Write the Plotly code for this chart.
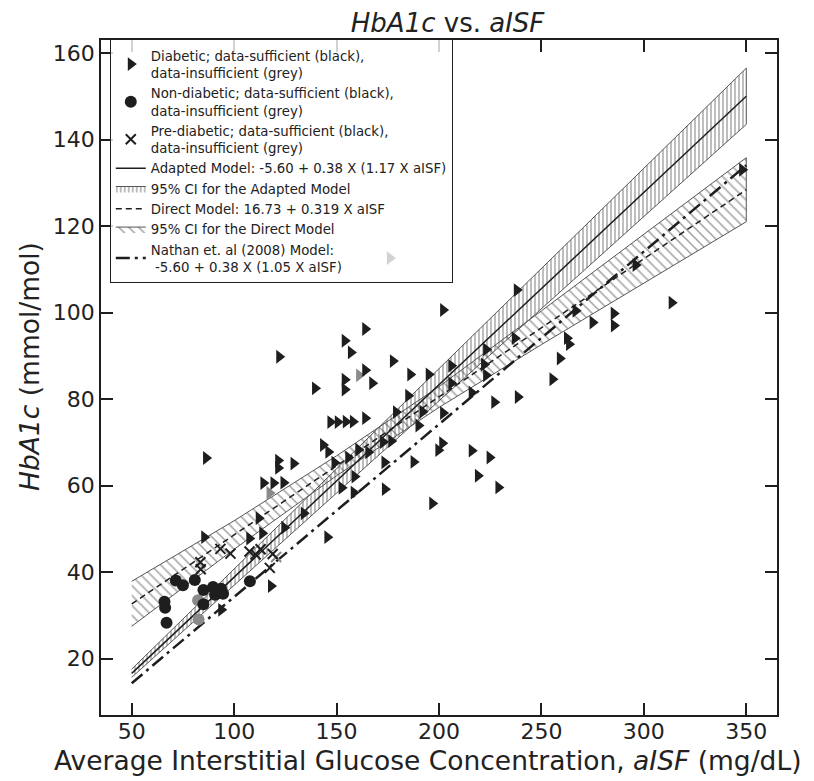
import plotly.graph_objects as go

# ---------------- data ----------------
diab_x = [164, 154, 157, 122, 177.5, 164, 154, 167.4, 154, 139.5, 147, 150.6, 154.5, 158, 164, 179,
          86.3, 143.4, 146, 121.5, 129, 121.5, 114.3, 119.2, 124.1, 149, 155.7, 160.6, 165.5, 172.7,
          176.7, 173.4, 158.8, 152.5, 158.4, 173.6, 112, 134, 124.5, 113.7, 107.4, 85.4, 145.5,
          238, 202, 313.6, 266.7, 285.3, 275, 285.4, 237, 262.5, 263.5, 223, 206, 222, 259, 186,
          195, 206, 223, 255.4, 185, 216, 238.5, 227, 192, 202, 190, 201.6, 199.7, 187.6, 216,
          224.7, 219, 229, 196.7, 296, 348, 118, 93.7, 176]
diab_y = [96.2, 93.5, 90.8, 89.8, 88.8, 86.7, 84.5, 83.7, 82.2, 82.5, 74.7, 74.7, 74.8, 74.8, 75.6, 77,
          66.4, 69.4, 67.8, 65.8, 65.1, 64.1, 60.6, 60.6, 60.7, 65.3, 66.5, 68.3, 67.7, 70.1,
          70.3, 65.4, 62.1, 59.5, 58.4, 59.2, 52.5, 53.6, 50.3, 49, 47.8, 48.1, 48.1,
          105.2, 100.6, 102.3, 100.4, 99.8, 97.7, 97, 94.1, 94.1, 92.7, 91.5, 87.7, 88, 89.4, 85.7,
          85.7, 83.7, 85.5, 84.6, 80.8, 81.5, 80.5, 79.3, 77.1, 76.8, 73.9, 69.8, 68.2, 65.5, 68.1,
          66.5, 62.3, 59.6, 55.9, 111, 133, 36.8, 31.3, 112.6]
diab_grey_x = [117.3, 161]
diab_grey_y = [58.3, 85.5]

nond_x = [66.3, 67, 66, 71.5, 75, 80.8, 85, 89.7, 92.1, 93.6, 90.7, 94.6, 85, 107.7]
nond_y = [31.8, 28.3, 33.2, 38.1, 37, 38.2, 35.9, 36.6, 35.5, 36.2, 34.8, 35, 32.6, 37.9]
nond_grey_x = [82.6, 82.4]
nond_grey_y = [29.1, 33.5]

pre_x = [93.3, 98.2, 107.5, 110.5, 112.9, 83.7, 83.5, 117.4, 118.8]
pre_y = [45.4, 44.3, 44.8, 44.1, 45.3, 40.7, 42.3, 41, 44.2]
pre_grey_x = [120.5]
pre_grey_y = [43.5]

# model coefficients (from legend)
model_x = [50, 350]
adapt_a, adapt_b, adapt_k = -5.60, 0.38, 1.17
direct_a, direct_b = 16.73, 0.319
nathan_a, nathan_b, nathan_k = -5.60, 0.38, 1.05

# confidence bands
adapt_ci_x = [50, 350]
adapt_ci_lo = [15.7, 143.5]
adapt_ci_hi = [17.6, 156.5]
direct_ci_x = [50, 100, 150, 200, 250, 300, 350]
direct_ci_lo = [27.5, 45.3, 62.3, 78.1, 92.6, 106.8, 121.0]
direct_ci_hi = [37.9, 51.9, 66.9, 82.9, 100.4, 118.0, 135.8]

x_ticks = [50, 100, 150, 200, 250, 300, 350]
y_ticks = [20, 40, 60, 80, 100, 120, 140, 160]

# ---------------- figure ----------------
BLACK = "#1e1e1e"
GREY = "#8a8a8a"
TXT = "#222"
FONT = "DejaVu Sans"
fig = go.Figure()

# CI bands
fig.add_trace(go.Scatter(
    x=adapt_ci_x + adapt_ci_x[::-1], y=adapt_ci_hi + adapt_ci_lo[::-1],
    fill="toself", mode="lines", line=dict(color="#555", width=1),
    fillcolor="rgba(0,0,0,0)",
    fillpattern=dict(shape="|", fgcolor="#444", bgcolor="rgba(255,255,255,0)", size=4, solidity=0.35),
    name="95% CI for the Adapted Model", legendrank=5))
fig.add_trace(go.Scatter(
    x=direct_ci_x + direct_ci_x[::-1], y=direct_ci_hi + direct_ci_lo[::-1],
    fill="toself", mode="lines", line=dict(color="#555", width=1),
    fillcolor="rgba(0,0,0,0)",
    fillpattern=dict(shape="\\", fgcolor="#444", bgcolor="rgba(255,255,255,0)", size=7, solidity=0.22),
    name="95% CI for the Direct Model", legendrank=7))

# model lines
fig.add_trace(go.Scatter(
    x=model_x, y=[adapt_a + adapt_b * adapt_k * v for v in model_x],
    mode="lines", line=dict(color=BLACK, width=1.5),
    name="Adapted Model: -5.60 + 0.38 X (1.17 X aISF)", legendrank=4))
fig.add_trace(go.Scatter(
    x=model_x, y=[direct_a + direct_b * v for v in model_x],
    mode="lines", line=dict(color=BLACK, width=1.5, dash="6px,4px"),
    name="Direct Model: 16.73 + 0.319 X aISF", legendrank=6))
fig.add_trace(go.Scatter(
    x=model_x, y=[nathan_a + nathan_b * nathan_k * v for v in model_x],
    mode="lines", line=dict(color=BLACK, width=2.5, dash="14px,5px,3px,5px"),
    name="Nathan et. al (2008) Model:<br> -5.60 + 0.38 X (1.05 X aISF)", legendrank=8))

# markers
fig.add_trace(go.Scatter(x=diab_grey_x, y=diab_grey_y, mode="markers", showlegend=False,
                         marker=dict(symbol="triangle-right", size=12, color=GREY)))
fig.add_trace(go.Scatter(x=diab_x, y=diab_y, mode="markers",
                         marker=dict(symbol="triangle-right", size=12, color=BLACK),
                         name="Diabetic; data-sufficient (black),<br>data-insufficient (grey)", legendrank=1))
fig.add_trace(go.Scatter(x=nond_grey_x, y=nond_grey_y, mode="markers", showlegend=False,
                         marker=dict(symbol="circle", size=12, color=GREY)))
fig.add_trace(go.Scatter(x=nond_x, y=nond_y, mode="markers",
                         marker=dict(symbol="circle", size=12, color=BLACK),
                         name="Non-diabetic; data-sufficient (black),<br>data-insufficient (grey)", legendrank=2))
fig.add_trace(go.Scatter(x=pre_grey_x, y=pre_grey_y, mode="markers", showlegend=False,
                         marker=dict(symbol="x-thin", size=10, color=GREY, line=dict(width=2, color=GREY))))
fig.add_trace(go.Scatter(x=pre_x, y=pre_y, mode="markers",
                         marker=dict(symbol="x-thin", size=10, color=BLACK, line=dict(width=2, color=BLACK)),
                         name="Pre-diabetic; data-sufficient (black),<br>data-insufficient (grey)", legendrank=3))

axis_common = dict(showline=True, linecolor=BLACK, linewidth=1.5, mirror="ticks",
                   ticks="inside", ticklen=12, tickwidth=2, tickcolor=BLACK,
                   showgrid=False, zeroline=False, automargin=False,
                   tickfont=dict(family=FONT, size=22, color=TXT))

fig.update_layout(
    width=814, height=781,
    margin=dict(l=93, r=45, t=32, b=74, autoexpand=False),
    paper_bgcolor="white", plot_bgcolor="white",
    font=dict(family=FONT, color=TXT),
    title=dict(text="<i>HbA1c</i> vs. <i>aISF</i>", x=0.54, xanchor="center",
               y=0.993, yanchor="top", yref="container",
               font=dict(family=FONT, size=26, color=TXT)),
    xaxis=dict(range=[35, 365], tickvals=x_ticks, ticklabelstandoff=-4, **axis_common),
    yaxis=dict(range=[7, 163], tickvals=y_ticks, ticklabelstandoff=0, **axis_common),
    legend=dict(x=0.013, y=1.001, xanchor="left", yanchor="top",
                bgcolor="rgba(255,255,255,0.8)", bordercolor=BLACK, borderwidth=1,
                font=dict(family=FONT, size=13.3, color=TXT), tracegroupgap=0,
                itemwidth=30),
    showlegend=True,
    annotations=[
        dict(text="Average Interstitial Glucose Concentration, <i>aISF</i> (mg/dL)",
             xref="paper", yref="paper", x=0.4837, y=-0.067, xanchor="center", yanchor="middle",
             showarrow=False, font=dict(family=FONT, size=26.5, color=TXT)),
        dict(text="<i>HbA1c</i> (mmol/mol)", textangle=-90,
             xref="paper", yref="paper", x=-0.105, y=0.5156, xanchor="center", yanchor="middle",
             showarrow=False, font=dict(family=FONT, size=26.5, color=TXT)),
    ],
)

fig.write_html("out.html")
